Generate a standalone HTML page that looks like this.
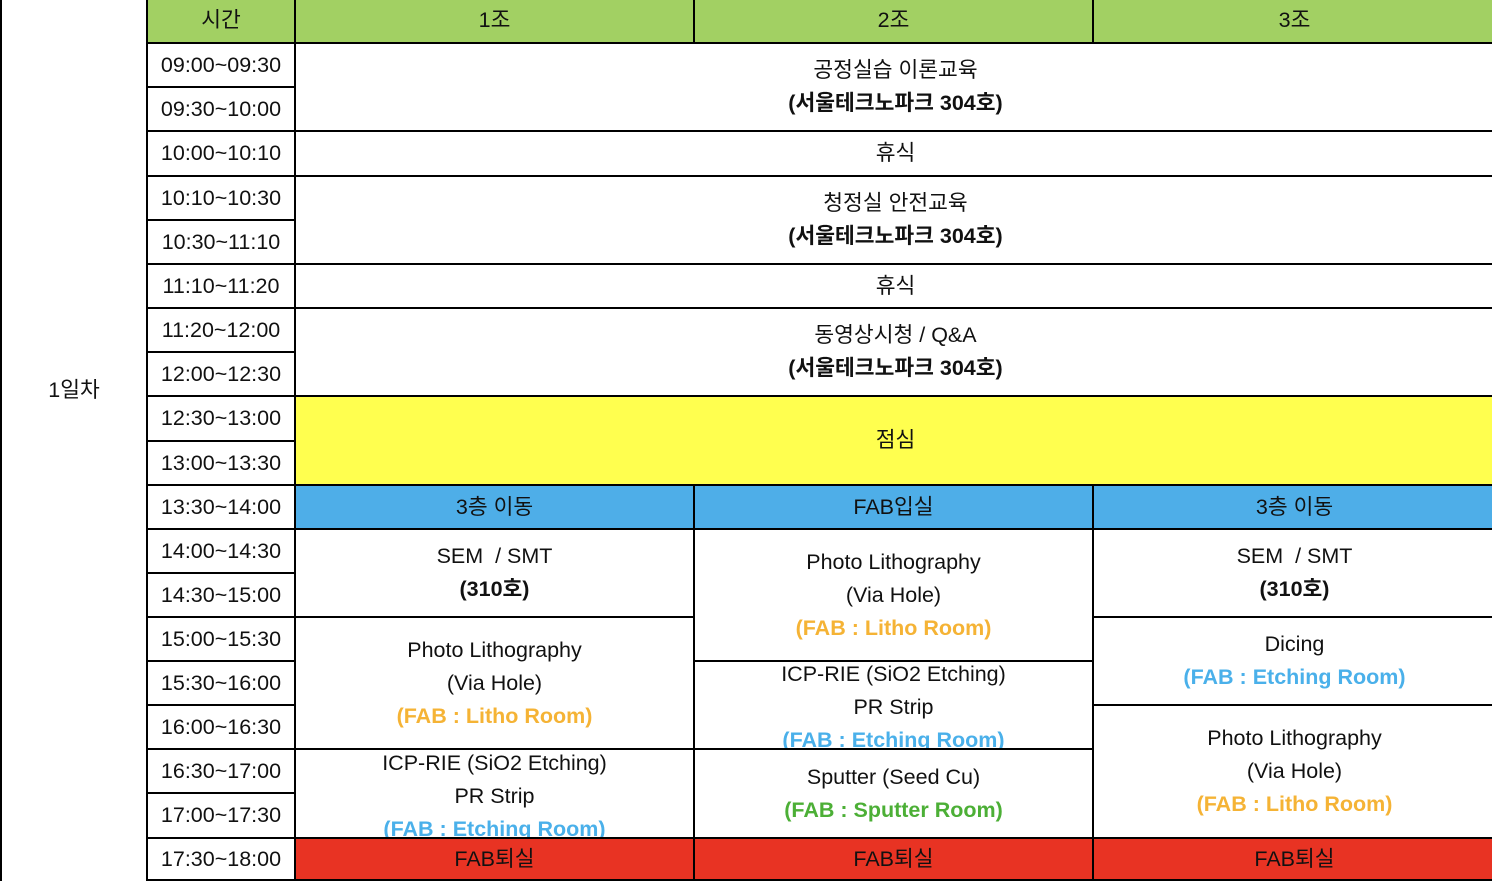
<!DOCTYPE html>
<html><head><meta charset="utf-8"><style>
body{margin:0;width:1492px;height:878px;overflow:hidden;background:#fff;font-family:"Liberation Sans","Noto Sans CJK KR",sans-serif;}
.c{position:absolute;box-sizing:border-box;border:2px solid #000;display:flex;flex-direction:column;justify-content:center;align-items:center;font-size:21.5px;color:#111;overflow:hidden;text-align:center;line-height:33px;white-space:nowrap}
.b{font-weight:bold}.o{color:#f5b335;font-weight:bold}.bl{color:#4ab0ea;font-weight:bold}.g{color:#4caf36;font-weight:bold}
</style></head><body>
<div id="t"></div>
<script>
const Y=[0,43,87,131,176,220,264,308,352,396,441,485,529,573,617,661,705,749,793,838,880];
const X=[1,147,295,694,1093,1494];
const times=["09:00~09:30","09:30~10:00","10:00~10:10","10:10~10:30","10:30~11:10","11:10~11:20","11:20~12:00","12:00~12:30","12:30~13:00","13:00~13:30","13:30~14:00","14:00~14:30","14:30~15:00","15:00~15:30","15:30~16:00","16:00~16:30","16:30~17:00","17:00~17:30","17:30~18:00"];
const G='#a2d063',YL='#ffff4f',BU='#4eaee8',RD='#e83323';
const cells=[
[0,1,0,20,'#fff','<div style="margin-top:-100px">1일차</div>','day-label'],
[1,2,0,1,G,'시간','header-time'],[2,3,0,1,G,'1조','header-group1'],[3,4,0,1,G,'2조','header-group2'],[4,5,0,1,G,'3조','header-group3'],
[2,5,1,3,'#fff','<div>공정실습 이론교육</div><div class="b">(서울테크노파크 304호)</div>','theory-session'],
[2,5,3,4,'#fff','휴식','break-1'],
[2,5,4,6,'#fff','<div>청정실 안전교육</div><div class="b">(서울테크노파크 304호)</div>','safety-session'],
[2,5,6,7,'#fff','휴식','break-2'],
[2,5,7,9,'#fff','<div>동영상시청 / Q&amp;A</div><div class="b">(서울테크노파크 304호)</div>','video-session'],
[2,5,9,11,YL,'점심','lunch'],
[2,3,11,12,BU,'3층 이동','g1-move'],[3,4,11,12,BU,'FAB입실','g2-fab-enter'],[4,5,11,12,BU,'3층 이동','g3-move'],
[2,3,12,14,'#fff','<div>SEM &nbsp;/ SMT</div><div class="b">(310호)</div>','g1-sem'],
[2,3,14,17,'#fff','<div>Photo Lithography</div><div>(Via Hole)</div><div class="o">(FAB : Litho Room)</div>','g1-photo'],
[2,3,17,19,'#fff','<div style="margin-top:6px">ICP-RIE (SiO2 Etching)</div><div>PR Strip</div><div class="bl">(FAB : Etching Room)</div>','g1-icp'],
[3,4,12,15,'#fff','<div>Photo Lithography</div><div>(Via Hole)</div><div class="o">(FAB : Litho Room)</div>','g2-photo'],
[3,4,15,17,'#fff','<div style="margin-top:4px">ICP-RIE (SiO2 Etching)</div><div>PR Strip</div><div class="bl">(FAB : Etching Room)</div>','g2-icp'],
[3,4,17,19,'#fff','<div>Sputter (Seed Cu)</div><div class="g">(FAB : Sputter Room)</div>','g2-sputter'],
[4,5,12,14,'#fff','<div>SEM &nbsp;/ SMT</div><div class="b">(310호)</div>','g3-sem'],
[4,5,14,16,'#fff','<div>Dicing</div><div class="bl">(FAB : Etching Room)</div>','g3-dicing'],
[4,5,16,19,'#fff','<div>Photo Lithography</div><div>(Via Hole)</div><div class="o">(FAB : Litho Room)</div>','g3-photo'],
[2,3,19,20,RD,'FAB퇴실','g1-fab-exit'],[3,4,19,20,RD,'FAB퇴실','g2-fab-exit'],[4,5,19,20,RD,'FAB퇴실','g3-fab-exit'],
];
times.forEach((t,i)=>cells.push([1,2,i+1,i+2,'#fff',t,'time-'+i]));
const root=document.getElementById('t');
cells.forEach(c=>{
 const d=document.createElement('div');
 d.className='c';
 d.style.left=(X[c[0]]-1)+'px';d.style.width=(X[c[1]]-X[c[0]]+2)+'px';
 d.style.top=(Y[c[2]]-1)+'px';d.style.height=(Y[c[3]]-Y[c[2]]+2)+'px';
 d.style.background=c[4];
 if(c[0]==0){d.style.borderTop='none';d.style.borderBottom='none';}
 if(c[2]==0&&c[0]>0)d.style.borderTop='none';
 if(c[1]==5)d.style.borderRight='none';
 d.innerHTML=c[5];
 
 
 root.appendChild(d);
});
</script>
</body></html>
